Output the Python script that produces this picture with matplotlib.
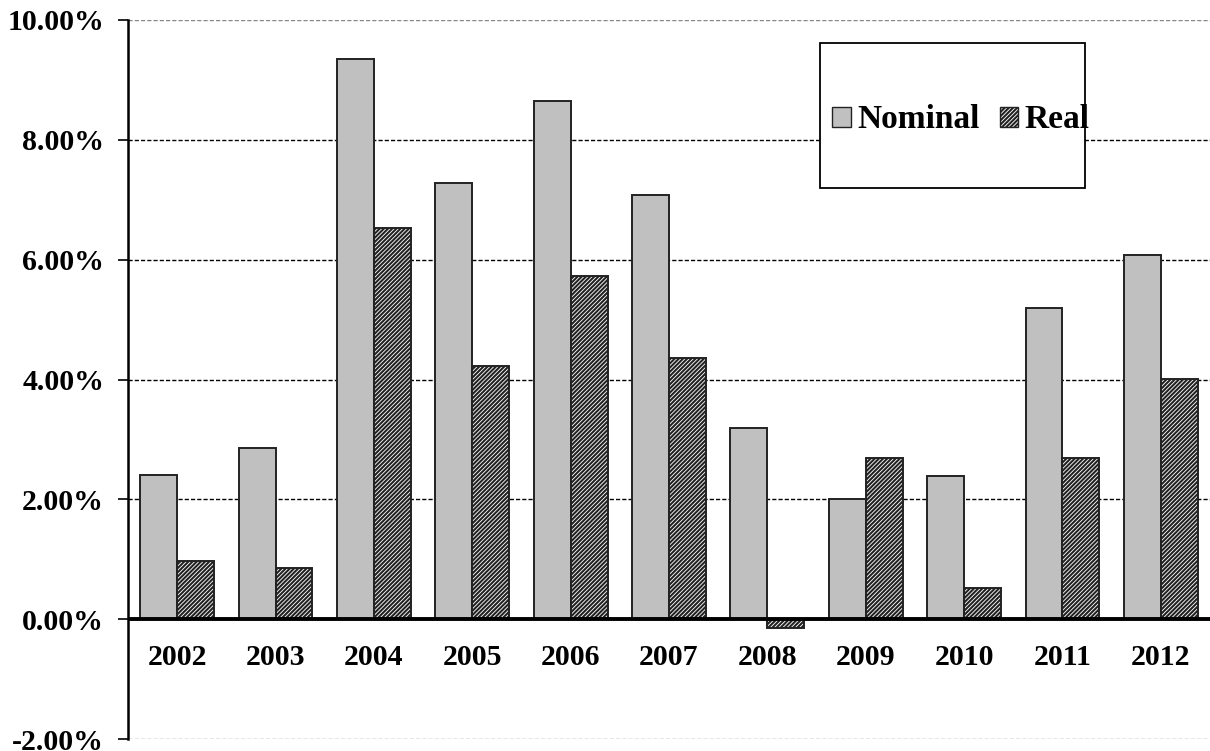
import matplotlib
matplotlib.use("Agg")
import matplotlib.pyplot as plt
import matplotlib.transforms as mtransforms
import numpy as np
from matplotlib.patches import Rectangle, Patch

years = ["2002", "2003", "2004", "2005", "2006", "2007", "2008", "2009", "2010", "2011", "2012"]
nominal = [2.40, 2.85, 9.35, 7.28, 8.65, 7.08, 3.19, 2.00, 2.39, 5.19, 6.08]
real = [0.97, 0.85, 6.53, 4.22, 5.73, 4.36, -0.15, 2.69, 0.52, 2.69, 4.01]
y_ticks = [-2, 0, 2, 4, 6, 8, 10]
y_tick_labels = ["-2.00%", "0.00%", "2.00%", "4.00%", "6.00%", "8.00%", "10.00%"]

plt.rcParams["font.family"] = ["Liberation Serif", "DejaVu Serif"]
plt.rcParams["font.weight"] = "bold"
plt.rcParams["hatch.linewidth"] = 1.5

W, H = 1210, 751
fig = plt.figure(figsize=(W / 100, H / 100), dpi=100)
ax = fig.add_axes([128 / W, 1 - 739 / H, (1210 - 128) / W, (739 - 20) / H])

x = np.arange(len(years))
bw = 0.375

ax.set_xlim(-0.5, len(years) - 0.5)
ax.set_ylim(-2, 10)

# horizontal gridlines
for v in y_ticks:
    if v == 0:
        continue
    col = "#888888" if v in (-2, 10) else "black"
    ax.axhline(v, color=col, lw=1.0, ls=(0, (3, 1.5)), zorder=0)

ax.bar(x - bw / 2, nominal, width=bw, color="#c0c0c0", edgecolor="#222222",
       linewidth=1.4, zorder=2, label="Nominal")
ax.bar(x + bw / 2, real, width=bw, color="white", edgecolor="#222222",
       hatch="////////", linewidth=1.4, zorder=2, label="Real")

ax.axhline(0, color="black", lw=2.8, zorder=3)

# axis styling
for s in ["top", "right", "bottom"]:
    ax.spines[s].set_visible(False)
ax.spines["left"].set_linewidth(1.8)
ax.spines["left"].set_color("black")

ax.set_yticks(y_ticks)
ax.set_yticklabels(y_tick_labels, fontsize=21.5, fontweight="bold")
ax.tick_params(axis="y", length=7.2, width=1.2, pad=10, direction="out")

# year labels sit just below the zero line
ax.set_xticks([])
offset = mtransforms.ScaledTranslation(0, -25 / 100, fig.dpi_scale_trans)
for xi, yr in zip(x, years):
    ax.text(xi, 0, yr, transform=ax.transData + offset, ha="center", va="top",
            fontsize=21.5, fontweight="bold")

# legend box
x0 = (820 - 128) / 1082
x1 = (1085 - 128) / 1082
y0 = (739 - 188) / 719
y1 = (739 - 43) / 719
ax.add_patch(Rectangle((x0, y0), x1 - x0, y1 - y0, transform=ax.transAxes,
                       facecolor="white", edgecolor="black", lw=1.3, zorder=4))
handles = [Patch(facecolor="#c0c0c0", edgecolor="#222222", lw=1.0, label="Nominal"),
           Patch(facecolor="white", edgecolor="#222222", hatch="////////", lw=1.0, label="Real")]
leg = ax.legend(handles=handles, loc="center",
                bbox_to_anchor=((961 - 128) / 1082, (739 - 120) / 719),
                ncol=2, frameon=False, handlelength=0.55, handleheight=0.55,
                handletextpad=0.2, columnspacing=0.6, borderpad=0,
                prop={"weight": "bold", "size": 24})
leg.set_zorder(5)

fig.savefig("out.png", dpi=100)
